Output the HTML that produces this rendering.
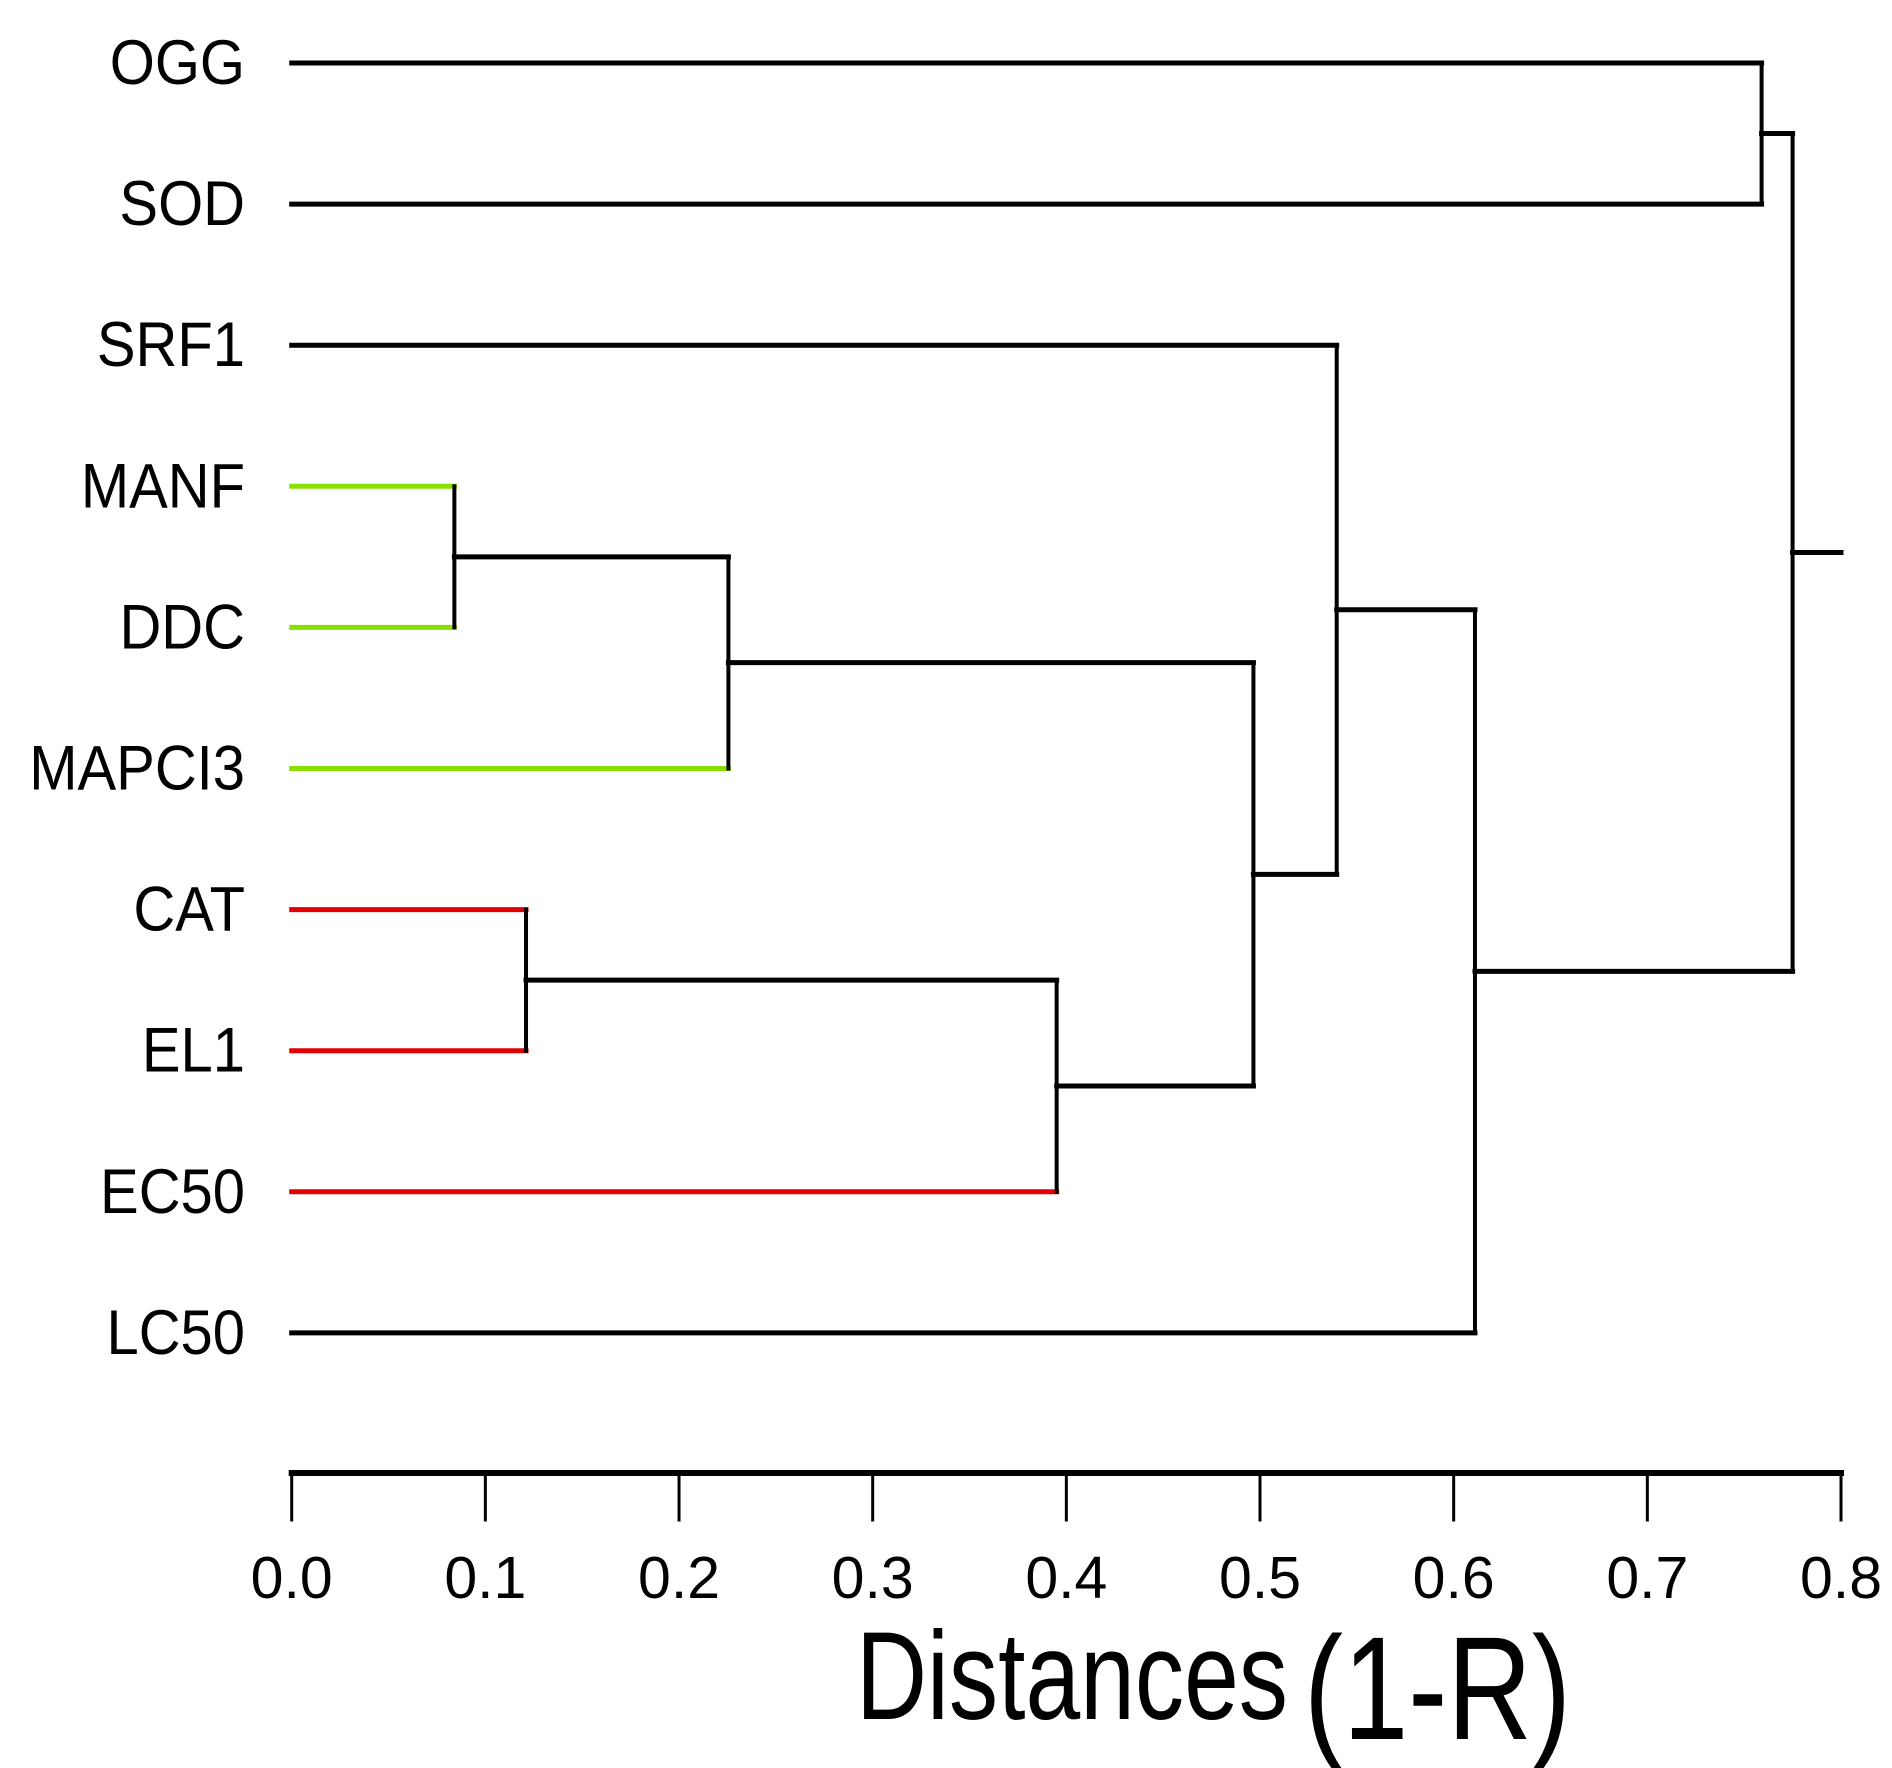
<!DOCTYPE html>
<html><head><meta charset="utf-8"><style>html,body{margin:0;padding:0;background:#fff}svg{display:block}</style></head>
<body>
<svg id="chart" width="1892" height="1768" viewBox="0 0 1892 1768" xmlns="http://www.w3.org/2000/svg" font-family="'Liberation Sans', sans-serif">
<g id="links"></g>
<g id="labels"></g>
<g id="axis"></g>
<text x="856" y="1719" font-size="125" textLength="432" lengthAdjust="spacingAndGlyphs">Distances</text>
<text x="1304" y="1739" font-size="147" textLength="267" lengthAdjust="spacingAndGlyphs">(1-R)</text>
</svg>
<script>
const leaves = ["OGG","SOD","SRF1","MANF","DDC","MAPCI3","CAT","EL1","EC50","LC50"];
const leafGroups = ["none","none","none","green","green","green","red","red","red","none"];
// merges: [childA, childB, height]; indices >= leaves.length refer to earlier merges
const mergeA = [3, 6, 10, 11, 12, 2, 15, 0, 16];
const mergeB = [4, 7, 5, 8, 13, 14, 9, 1, 17];
const mergeH = [0.084, 0.121, 0.2255, 0.395, 0.4966, 0.5396, 0.611, 0.759, 0.775];
const rootStubTo = 0.8;
const ticks = [0,0.1,0.2,0.3,0.4,0.5,0.6,0.7,0.8];
const tickLabels = ["0.0","0.1","0.2","0.3","0.4","0.5","0.6","0.7","0.8"];

const X0=291.7, X1=1841, DMAX=0.8;
const xs = d => X0 + (X1-X0)*d/DMAX;
const ys = i => 63 + 141.1*i;
const groupColor = {none:"#000000", green:"#88e000", red:"#e00000"};
const NS="http://www.w3.org/2000/svg";
const links=document.getElementById('links'), labels=document.getElementById('labels'), axis=document.getElementById('axis');
function line(parent,x1,y1,x2,y2,color,w,name){
  const l=document.createElementNS(NS,'line');
  l.setAttribute('x1',x1);l.setAttribute('y1',y1);l.setAttribute('x2',x2);l.setAttribute('y2',y2);
  l.setAttribute('stroke',color);l.setAttribute('stroke-width',w);l.setAttribute('stroke-linecap','square');
  
  
  parent.appendChild(l);return l;
}
const nodeY=[], nodeH=[], nodeColor=[];
leaves.forEach((n,i)=>{nodeY.push(ys(i));nodeH.push(0);nodeColor.push(groupColor[leafGroups[i]]);});
for(let k=0;k<mergeA.length;k++){
  const a=mergeA[k], b=mergeB[k], h=mergeH[k];
  const xh=xs(h);
  line(links,xs(nodeH[a]),nodeY[a],xh,nodeY[a],nodeColor[a],5,'branch-'+(a<leaves.length?leaves[a]:'node'+a));
  line(links,xs(nodeH[b]),nodeY[b],xh,nodeY[b],nodeColor[b],5,'branch-'+(b<leaves.length?leaves[b]:'node'+b));
  line(links,xh,nodeY[a],xh,nodeY[b],'#000',4,'merge-vertical-'+k);
  nodeY.push((nodeY[a]+nodeY[b])/2);nodeH.push(h);nodeColor.push('#000');
}
const r=nodeY.length-1;
line(links,xs(nodeH[r]),nodeY[r],xs(rootStubTo),nodeY[r],'#000',5,'root-stub');
leaves.forEach((n,i)=>{
  const t=document.createElementNS(NS,'text');
  t.setAttribute('transform','translate(245,'+(ys(i)+21)+') scale(0.92,1)');
  t.setAttribute('text-anchor','end');t.setAttribute('font-size','63');
  t.textContent=n;
  
  
  labels.appendChild(t);
});
line(axis,X0,1473,X1,1473,'#000',6,'x-axis-line');
ticks.forEach((v,i)=>{
  line(axis,xs(v),1473,xs(v),1520,'#000',3,'x-tick-'+tickLabels[i]);
  const t=document.createElementNS(NS,'text');
  t.setAttribute('x',xs(v));t.setAttribute('y',1598);t.setAttribute('text-anchor','middle');t.setAttribute('font-size','59');
  t.textContent=tickLabels[i];
  
  
  axis.appendChild(t);
});
</script>
</body></html>
